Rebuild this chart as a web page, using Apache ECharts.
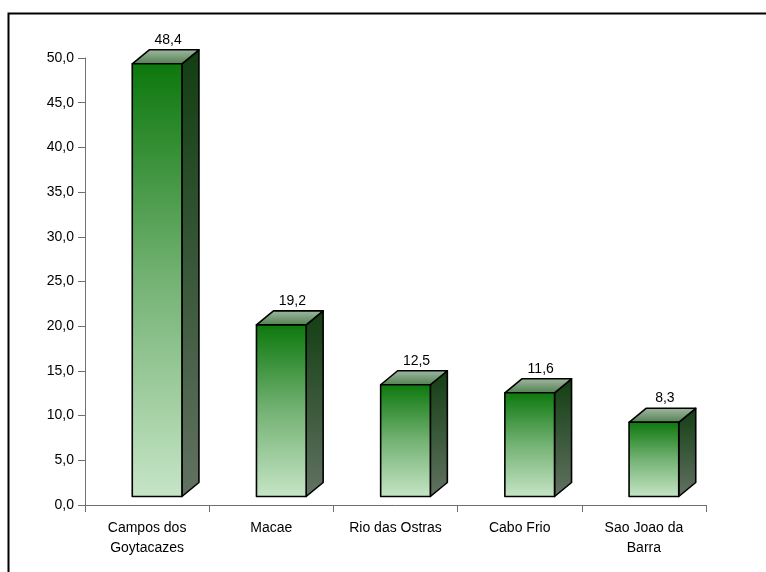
<!DOCTYPE html>
<html>
<head>
<meta charset="utf-8">
<script src="https://cdn.jsdelivr.net/npm/echarts@6/dist/echarts.min.js"></script>
<style>html,body{margin:0;padding:0;background:#fff;}#c{width:766px;height:572px;}</style>
</head>
<body>
<div id="c"></div>
<script>
const categories = ['Campos dos\nGoytacazes', 'Macae', 'Rio das Ostras', 'Cabo Frio', 'Sao Joao da\nBarra'];
const values = [48.4, 19.2, 12.5, 11.6, 8.3];
const valueLabels = ['48,4', '19,2', '12,5', '11,6', '8,3'];

const chart = echarts.init(document.getElementById('c'));
const font = '"Liberation Sans Narrow", "Liberation Sans", Arial, sans-serif';

function renderItem(params, api) {
  const i = api.value(0), v = api.value(1);
  const base = api.coord([i, 0]);
  const top = api.coord([i, v]);
  const cw = api.size([1, 0])[0];
  const bw = cw * 0.4, dx = 17, dy = 14, shift = 8.5, off = 10;
  const x0 = base[0] + off - bw / 2, x1 = x0 + bw;
  const yb = base[1] - shift, yt = top[1] - shift;
  const G = echarts.graphic.LinearGradient;
  const stroke = { stroke: '#000', lineWidth: 1.6, lineJoin: 'round' };
  return {
    type: 'group',
    children: [
      { type: 'polygon', shape: { points: [[x1, yt], [x1 + dx, yt - dy], [x1 + dx, yb - dy], [x1, yb]] },
        style: Object.assign({ fill: new G(0, 0, 0, 1, [{ offset: 0, color: '#123e12' }, { offset: 1, color: '#627262' }]) }, stroke) },
      { type: 'polygon', shape: { points: [[x0, yt], [x0 + dx, yt - dy], [x1 + dx, yt - dy], [x1, yt]] },
        style: Object.assign({ fill: new G(0, 0, 0, 1, [{ offset: 0, color: '#a3b9a3' }, { offset: 1, color: '#4f7f4f' }]) }, stroke) },
      { type: 'rect', shape: { x: x0, y: yt, width: bw, height: yb - yt },
        style: Object.assign({ fill: new G(0, 0, 0, 1, [{ offset: 0, color: '#0c780c' }, { offset: 0.5, color: '#74b274' }, { offset: 1, color: '#c6e5c6' }]) }, stroke) },
      { type: 'text', x: x0 + bw / 2 + 11, y: yt - dy - 3,
        style: { text: valueLabels[params.dataIndex], fill: '#000', font: '14px ' + font, align: 'center', verticalAlign: 'bottom' } }
    ]
  };
}

chart.setOption({
  animation: false,
  graphic: [{ type: 'rect', left: 6, top: 11, shape: { width: 820, height: 620 }, style: { fill: 'none', stroke: '#000', lineWidth: 2 } }],
  grid: { left: 85, right: 60, top: 58, bottom: 67 },
  xAxis: {
    type: 'category', data: categories, boundaryGap: true,
    axisLine: { lineStyle: { color: '#707070', width: 1 } },
    axisTick: { show: true, length: 7, lineStyle: { color: '#707070' } },
    axisLabel: { color: '#000', fontFamily: font, fontSize: 14, margin: 13, lineHeight: 20, interval: 0 }
  },
  yAxis: {
    type: 'value', min: 0, max: 50, interval: 5,
    axisLine: { show: true, lineStyle: { color: '#707070', width: 1 } },
    axisTick: { show: true, length: 7, lineStyle: { color: '#707070' } },
    splitLine: { show: false },
    axisLabel: { color: '#000', fontFamily: font, fontSize: 14, margin: 11, formatter: v => v.toFixed(1).replace('.', ',') }
  },
  series: [{
    type: 'custom', renderItem: renderItem,
    data: values.map((v, i) => [i, v])
  }]
});
</script>
</body>
</html>
